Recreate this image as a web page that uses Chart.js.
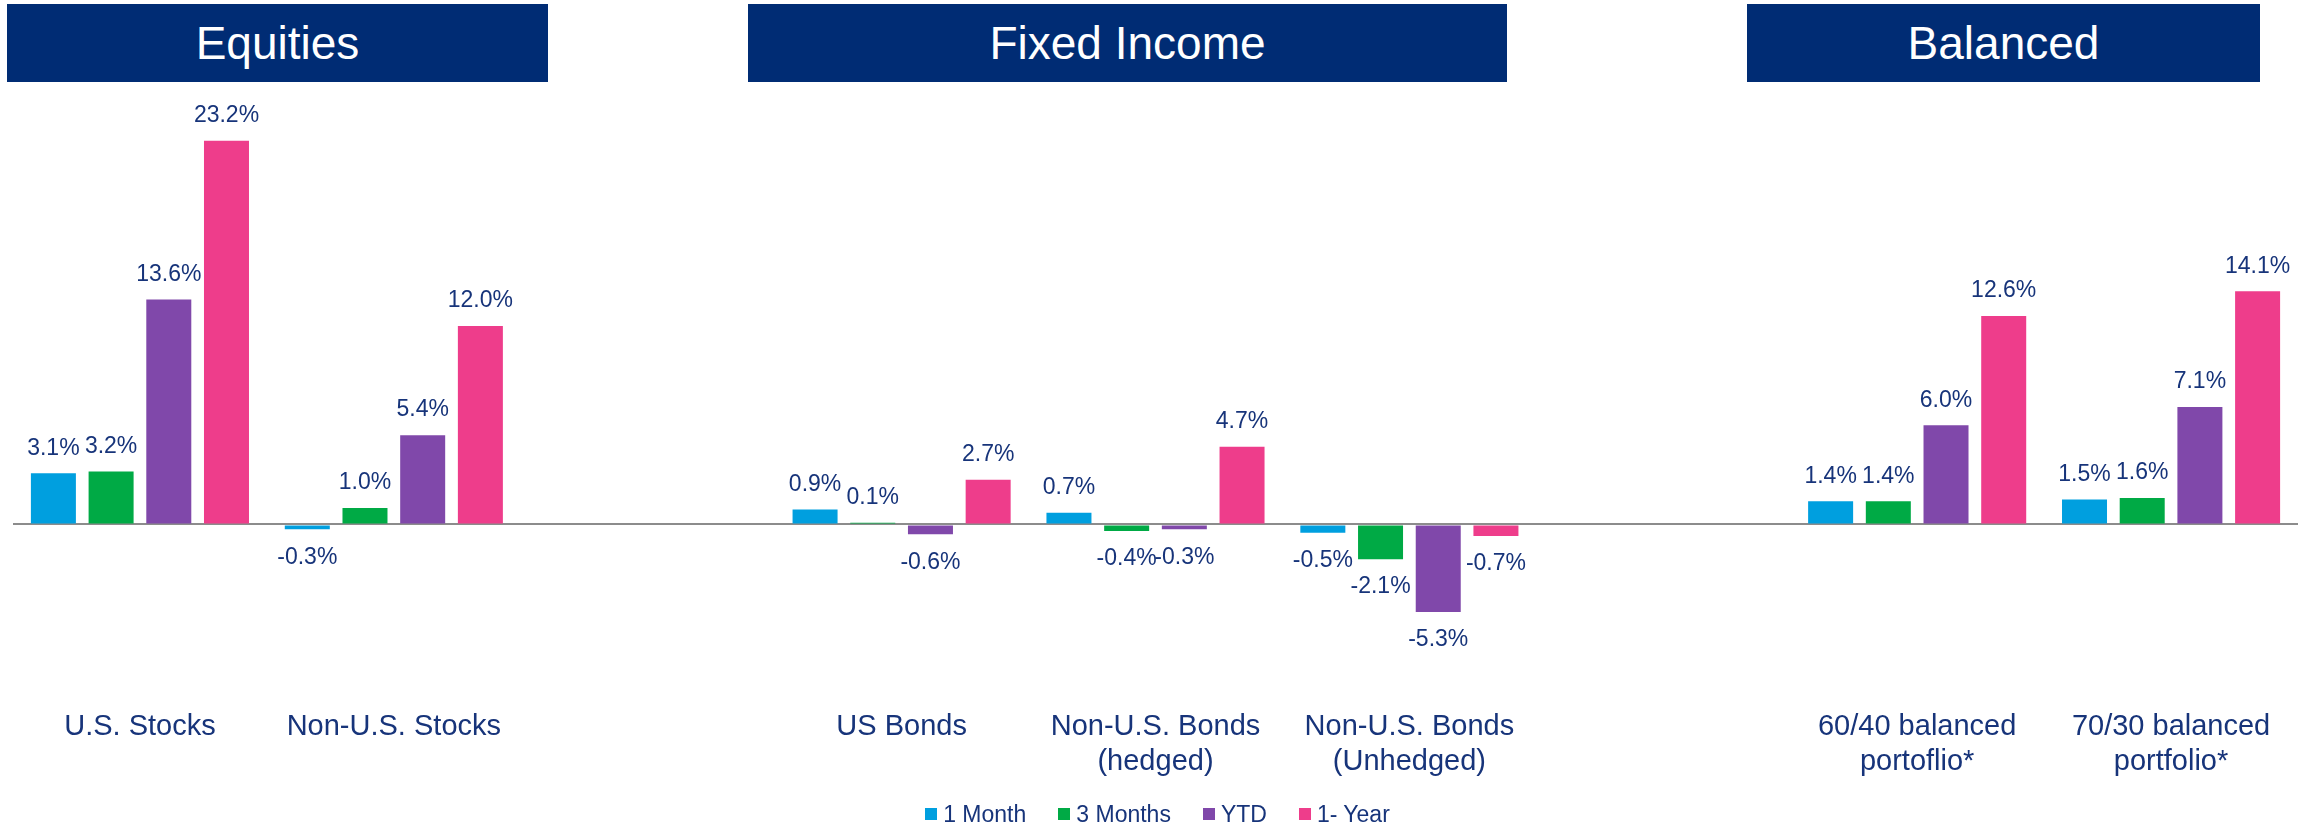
<!DOCTYPE html>
<html>
<head>
<meta charset="utf-8">
<script src="https://cdn.jsdelivr.net/npm/chart.js@4.4.1/dist/chart.umd.min.js"></script>
<style>
  html, body { margin: 0; padding: 0; background: #fff; }
  body { width: 2315px; height: 826px; position: relative; overflow: hidden; font-family: "Liberation Sans", Arial, sans-serif; }
  #wrap { position: absolute; left: 0; top: 0; width: 2315px; height: 826px; }
  .hdr { position: absolute; top: 4px; height: 78px; background: #002c74; color: #fff; font-size: 46px; display: flex; align-items: center; justify-content: center; }
  #legend { position: absolute; left: 0; top: 800px; width: 2315px; height: 28px; display: flex; justify-content: center; align-items: center; gap: 32px; font-size: 23px; color: #17347a; }
  #legend .item { display: flex; align-items: center; }
  #legend .box { width: 12px; height: 12px; margin-right: 6px; }
</style>
</head>
<body>
<div id="wrap"><canvas id="perfChart" width="2315" height="826"></canvas></div>
<div class="hdr" style="left:7px; width:541px;">Equities</div>
<div class="hdr" style="left:748px; width:759px;">Fixed Income</div>
<div class="hdr" style="left:1747px; width:513px;">Balanced</div>
<div id="legend"></div>
<script>
// categories, '' entries are the spacer slots between the groups
const categories = ['U.S. Stocks', 'Non-U.S. Stocks', '', 'US Bonds',
    ['Non-U.S. Bonds', '(hedged)'], ['Non-U.S. Bonds', '(Unhedged)'], '',
    ['60/40 balanced', 'portoflio*'], ['70/30 balanced', 'portfolio*']];

const seriesNames = ['1 Month', '3 Months', 'YTD', '1- Year'];
const oneMonth    = [3.1, -0.3, null, 0.9, 0.7, -0.5, null, 1.4, 1.5];
const threeMonths = [3.2, 1.0, null, 0.1, -0.4, -2.1, null, 1.4, 1.6];
const ytd         = [13.6, 5.4, null, -0.6, -0.3, -5.3, null, 6.0, 7.1];
const oneYear     = [23.2, 12.0, null, 2.7, 4.7, -0.7, null, 12.6, 14.1];

const colors = ['#009fdf', '#00aa45', '#8048aa', '#ee3d8b'];
const navy = '#17347a';

// value labels above/below every bar
const valueLabels = {
    id: 'valueLabels',
    afterDatasetsDraw(chart) {
        const ctx = chart.ctx;
        ctx.save();
        ctx.font = '23px "Liberation Sans", Arial, sans-serif';
        ctx.fillStyle = navy;
        ctx.textAlign = 'center';
        ctx.textBaseline = 'middle';
        chart.data.datasets.forEach((ds, i) => {
            chart.getDatasetMeta(i).data.forEach((bar, j) => {
                const v = ds.data[j];
                if (v === null || v === undefined) return;
                const y = v >= 0 ? bar.y - 25 : bar.y + 28;
                ctx.fillText(v.toFixed(1) + '%', bar.x, y);
            });
        });
        ctx.restore();
    }
};

const ctx = document.getElementById('perfChart').getContext('2d');
new Chart(ctx, {
    type: 'bar',
    data: {
        labels: categories,
        datasets: [oneMonth, threeMonths, ytd, oneYear].map((d, i) => ({
            label: seriesNames[i],
            data: d,
            backgroundColor: colors[i],
            categoryPercentage: 0.909,
            barPercentage: 0.78
        }))
    },
    options: {
        responsive: false,
        animation: false,
        layout: { padding: { top: 100, left: 13, right: 17, bottom: 37 } },
        plugins: { legend: { display: false }, tooltip: { enabled: false } },
        scales: {
            x: {
                grid: { display: false },
                border: { display: false },
                ticks: {
                    color: navy,
                    padding: 10,
                    maxRotation: 0,
                    autoSkip: false,
                    font: { family: '"Liberation Sans", Arial, sans-serif', size: 29, lineHeight: 1.2 }
                }
            },
            y: {
                min: -10.1,
                max: 25.67,
                border: { display: false },
                ticks: { display: false },
                afterBuildTicks: s => { s.ticks = [{ value: 0 }]; },
                grid: {
                    drawTicks: false,
                    lineWidth: 2,
                    color: c => c.tick && c.tick.value === 0 ? '#8c8c8c' : 'rgba(0,0,0,0)'
                }
            }
        }
    },
    plugins: [valueLabels]
});

// legend built from the series names
const legend = document.getElementById('legend');
seriesNames.forEach((name, i) => {
    const item = document.createElement('div');
    item.className = 'item';
    item.innerHTML = '<span class="box" style="background:' + colors[i] + '"></span><span>' + name + '</span>';
    legend.appendChild(item);
});
</script>
</body>
</html>
